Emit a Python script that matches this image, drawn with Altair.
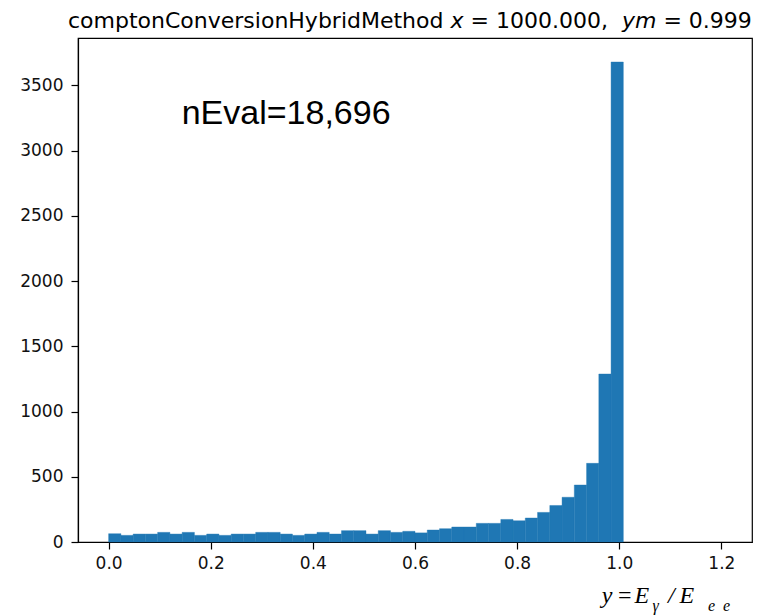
import altair as alt
import pandas as pd

# ---- data ----
bin_lo = [0.000, 0.024, 0.048, 0.072, 0.096, 0.120, 0.144, 0.168, 0.192, 0.216,
          0.240, 0.264, 0.288, 0.312, 0.336, 0.360, 0.384, 0.408, 0.432, 0.456,
          0.480, 0.504, 0.528, 0.552, 0.576, 0.600, 0.624, 0.648, 0.672, 0.696,
          0.720, 0.744, 0.768, 0.792, 0.816, 0.840, 0.864, 0.888, 0.912, 0.936,
          0.960, 0.984, 1.008, 1.032, 1.056, 1.080, 1.104, 1.128, 1.152, 1.176]
bin_width = 0.024
counts = [64, 51, 61, 61, 74, 61, 74, 51, 61, 51,
          61, 61, 74, 74, 61, 51, 61, 74, 61, 87,
          87, 61, 87, 74, 82, 70, 92, 102, 115, 115,
          143, 143, 173, 163, 184, 227, 280, 343, 437, 603,
          1288, 3680, 0, 0, 0, 0, 0, 0, 0, 0]
x_ticks = [0.0, 0.2, 0.4, 0.6, 0.8, 1.0, 1.2]
y_ticks = [0, 500, 1000, 1500, 2000, 2500, 3000, 3500]
annotation = "nEval=18,696"

df = pd.DataFrame({
    "lo": bin_lo,
    "hi": [round(v + bin_width, 3) for v in bin_lo],
    "count": counts,
})
df = df[df["count"] > 0]

W, H = 674, 504
BLUE = "#1f77b4"

bars = alt.Chart(df).mark_rect(color=BLUE, stroke=BLUE, strokeWidth=0.4).encode(
    x=alt.X("lo:Q",
            scale=alt.Scale(domain=[-0.06, 1.26], nice=False, zero=False),
            axis=alt.Axis(values=x_ticks, format=".1f", title=None,
                          labelPadding=6)),
    x2="hi:Q",
    y=alt.Y("count:Q",
            scale=alt.Scale(domain=[0, 3864], nice=False),
            axis=alt.Axis(values=y_ticks, format="d", title=None,
                          labelPadding=8)),
    y2=alt.datum(0),
)

one = pd.DataFrame({"k": [0]})


def txt(s, x, y, size, font="DejaVu Sans", style="normal", align="left"):
    return alt.Chart(one).mark_text(
        text=s, align=align, baseline="alphabetic", font=font,
        fontSize=size, fontStyle=style, color="black",
    ).encode(x=alt.value(x), y=alt.value(y))


# title pieces (mixed normal / italic like matplotlib mathtext)
TY = -9.7
title_layers = [
    txt("comptonConversionHybridMethod", -10, TY, 22),
    txt("x", 372.6, TY, 22, style="italic"),
    txt("= 1000.000,", 392.6, TY, 22),
    txt("ym", 544.0, TY, 22, style="italic"),
    txt("= 0.999", 585.4, TY, 22),
]

# annotation
note = txt(annotation, 103.7, 86, 34, font="Liberation Sans")

# x-axis label  y = E_gamma / E_ee
XB = 565
SB = 573
SERIF = "Liberation Serif"
xlabel_layers = [
    txt("y", 523.7, XB, 24, font=SERIF, style="italic"),
    txt("=", 540.0, XB, 24, font=SERIF),
    txt("E", 556.5, XB, 24, font=SERIF, style="italic"),
    txt("γ", 574.5, SB, 16, font=SERIF, style="italic"),
    txt("/", 590.0, XB, 24, font=SERIF, style="italic"),
    txt("E", 601.5, XB, 24, font=SERIF, style="italic"),
    txt("e", 630.0, SB, 16, font=SERIF, style="italic"),
    txt("e", 645.0, SB, 16, font=SERIF, style="italic"),
]

chart = alt.layer(bars, note, *title_layers, *xlabel_layers).properties(
    width=W, height=H,
    padding={"left": 78, "top": 38, "right": 9, "bottom": 74},
    autosize=alt.AutoSizeParams(type="none"),
    background="white",
).configure_view(
    stroke="black", strokeWidth=1.2
).configure_axis(
    grid=False,
    labelFont="DejaVu Sans", labelFontSize=17, labelColor="#111111",
    tickColor="black", tickSize=7, tickWidth=1.2,
    domainColor="black", domainWidth=1.2,
)

chart.save("out.html", embed_options={"renderer": "svg", "actions": False})
